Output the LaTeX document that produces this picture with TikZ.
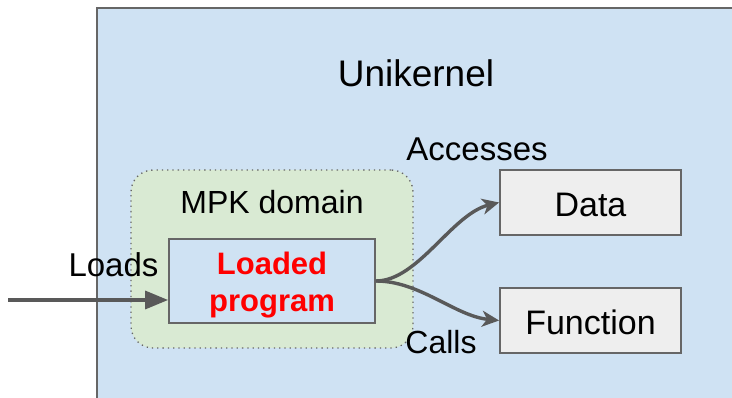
\documentclass[tikz,border=0pt]{standalone}
\usepackage{fontspec}
\setmainfont{Liberation Sans}
\usetikzlibrary{arrows.meta}

\definecolor{ukfill}{HTML}{CFE2F3}
\definecolor{mpkfill}{HTML}{D9EAD3}
\definecolor{boxfill}{HTML}{EEEEEE}
\definecolor{edge}{HTML}{666666}
\definecolor{arrowgray}{HTML}{595959}
\definecolor{progred}{HTML}{FF0000}

\tikzset{
  lbl/.style={inner sep=0pt, anchor=base, font=\fontsize{33}{39}\selectfont},
  title/.style={inner sep=0pt, anchor=base, font=\fontsize{37}{44}\selectfont},
  progtxt/.style={inner sep=0pt, anchor=base, text=progred, font=\fontsize{31}{37}\selectfont\bfseries},
  mpkbox/.style={draw=edge, line width=1.3pt, dash pattern=on 1.3pt off 4pt, fill=mpkfill,
                 rounded corners=22pt, inner sep=0pt},
  progbox/.style={draw=edge, line width=1.8pt, fill=ukfill, inner sep=0pt},
  targetbox/.style={draw=edge, line width=1.8pt, fill=boxfill, inner sep=0pt,
                    text height=29pt, text depth=0pt,
                    font=\fontsize{34}{40}\selectfont},
  conn/.style={draw=arrowgray, line width=3.4pt,
               -{Stealth[length=17pt, width=16pt, inset=5pt]}},
  loadarrow/.style={draw=arrowgray, line width=3.4pt,
               -{Triangle[length=23pt, width=18pt]}},
}

\begin{document}
\begin{tikzpicture}[x=1pt, y=-1pt]
\useasboundingbox (0,0) rectangle (732,398);

% unikernel area, running off the right and bottom edges
\begin{scope}
  \clip (0,0) rectangle (732,398);
  \path[draw=edge, line width=1.8pt, fill=ukfill] (97,8) rectangle (745,412);
\end{scope}

\node[title] (uk) at (416,87) {Unikernel};

% MPK domain
\node[mpkbox, minimum width=282pt, minimum height=178pt] (mpk) at (272,259) {};
\node[lbl, font=\fontsize{32}{38}\selectfont] (mpklbl) at (272,214) {MPK domain};

% loaded program
\node[progbox, minimum width=206pt, minimum height=84pt] (prog) at (272,281) {};
\node[progtxt] (ld) at (272,275) {Loaded};
\node[progtxt] (pg) at (272,312) {program};

% targets
\node[targetbox, minimum width=181pt, minimum height=65pt] (data) at (590.5,202.5) {Data};
\node[targetbox, minimum width=181pt, minimum height=65pt] (func) at (590.5,320.5) {Function};

% connectors
\coordinate (src) at (8,300);
\draw[loadarrow] (src) -- (prog.west |- src);
\draw[conn] (prog.east) .. controls (418,281) and (452,214) .. (data.west);
\draw[conn] (prog.east) .. controls (420,281) and (455,316) .. (func.west);

% labels
\node[lbl] (loads) at (113.5,277) {Loads};
\node[lbl] (acc) at (477,161) {Accesses};
\node[lbl, font=\fontsize{32}{38}\selectfont] (calls) at (441,354) {Calls};
\end{tikzpicture}
\end{document}
